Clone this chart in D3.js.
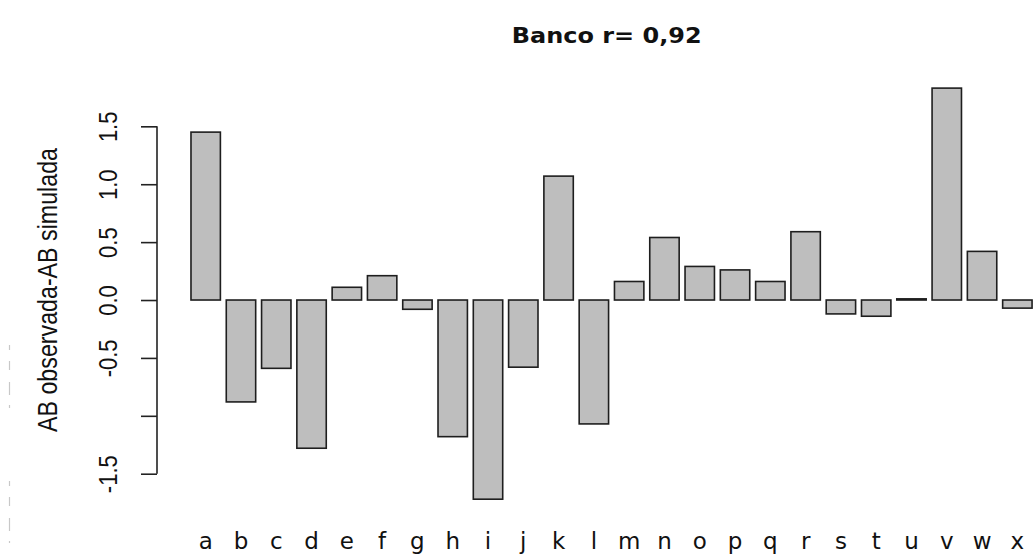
<!DOCTYPE html>
<html>
<head>
<meta charset="utf-8">
<script src="https://cdn.jsdelivr.net/npm/d3@7"></script>
<style>
  html, body { margin: 0; padding: 0; background: #fff; }
  svg { display: block; }
</style>
</head>
<body>
<svg id="chart" width="1033" height="557"></svg>
<script>
// Differences between observed and simulated AB per site
const categories = ["a","b","c","d","e","f","g","h","i","j","k","l",
                    "m","n","o","p","q","r","s","t","u","v","w","x"];
const values = [1.45, -0.88, -0.59, -1.28, 0.11, 0.21, -0.08, -1.18, -1.72, -0.58, 1.07, -1.07,
                0.16, 0.54, 0.29, 0.26, 0.16, 0.59, -0.12, -0.14, 0.01, 1.83, 0.42, -0.07];
const yTickValues = [-1.5, -1.0, -0.5, 0.0, 0.5, 1.0, 1.5];
const yTickLabels = ["-1.5", "", "-0.5", "0.0", "0.5", "1.0", "1.5"];
const chartTitle = "Banco r= 0,92";
const yTitle = "AB observada-AB simulada";

const svg = d3.select("#chart");

// Bar positions: band width is 1, gap 0.2 (classic barplot spacing)
const x = d3.scaleBand()
  .domain(categories)
  .range([185.1, 185.1 + 35.29 * (categories.length + 1 / 6)])
  .paddingInner(1 / 6)
  .paddingOuter(1 / 6);

const y = d3.scaleLinear()
  .domain([-1.86, 1.97])
  .range([515.4, 71.9]);

// Bars
svg.append("g")
  .selectAll("rect")
  .data(values)
  .join("rect")
  .attr("x", (d, i) => x(categories[i]))
  .attr("width", x.bandwidth())
  .attr("y", d => y(Math.max(0, d)))
  .attr("height", d => Math.max(1, Math.abs(y(d) - y(0))))
  .attr("fill", "#bebebe")
  .attr("stroke", "#1e1e1e")
  .attr("stroke-width", 1.6);

// Category labels under the bars
svg.append("g")
  .selectAll("text")
  .data(categories)
  .join("text")
  .attr("x", d => x(d) + x.bandwidth() / 2)
  .attr("y", 549)
  .attr("text-anchor", "middle")
  .attr("font-family", "DejaVu Sans, Verdana, sans-serif")
  .attr("font-size", 23)
  .attr("fill", "#111")
  .text(d => d);

// Y axis
const yAxis = d3.axisLeft(y)
  .tickValues(yTickValues)
  .tickSize(16)
  .tickSizeOuter(0)
  .tickFormat((d, i) => yTickLabels[i]);

const axisG = svg.append("g")
  .attr("transform", "translate(157,0)")
  .call(yAxis);

axisG.select(".domain")
  .attr("d", `M0,${y(yTickValues[0])}V${y(yTickValues[yTickValues.length - 1])}`)
  .attr("stroke", "#222")
  .attr("stroke-width", 1.6);

axisG.selectAll(".tick line")
  .attr("stroke", "#222")
  .attr("stroke-width", 1.6);

// Rotated tick labels, reading bottom to top
axisG.selectAll(".tick text")
  .attr("x", null)
  .attr("dy", null)
  .attr("text-anchor", "middle")
  .attr("transform", "translate(-40,0) rotate(-90) scale(0.88,1)")
  .attr("font-family", "Liberation Sans, Arial, sans-serif")
  .attr("font-size", 25)
  .attr("fill", "#111");

// Y axis title
svg.append("text")
  .attr("transform", "translate(56.7,290) rotate(-90)")
  .attr("text-anchor", "middle")
  .attr("font-family", "Liberation Sans, Arial, sans-serif")
  .attr("font-size", 27)
  .attr("textLength", 284)
  .attr("lengthAdjust", "spacingAndGlyphs")
  .attr("fill", "#111")
  .text(yTitle);

// Chart title
svg.append("text")
  .attr("x", 606.7)
  .attr("y", 43.3)
  .attr("text-anchor", "middle")
  .attr("font-family", "DejaVu Sans, Verdana, sans-serif")
  .attr("font-weight", "bold")
  .attr("font-size", 21)
  .attr("textLength", 190)
  .attr("lengthAdjust", "spacingAndGlyphs")
  .attr("fill", "#111")
  .text(chartTitle);

// Faint dashed rule along the left margin
svg.append("line")
  .attr("x1", 9.5).attr("x2", 9.5)
  .attr("y1", 345).attr("y2", 543)
  .attr("stroke", "#c8c8c8")
  .attr("stroke-width", 1.2)
  .attr("stroke-dasharray", "5 11 9 12 13 10 3 73");
</script>
</body>
</html>
